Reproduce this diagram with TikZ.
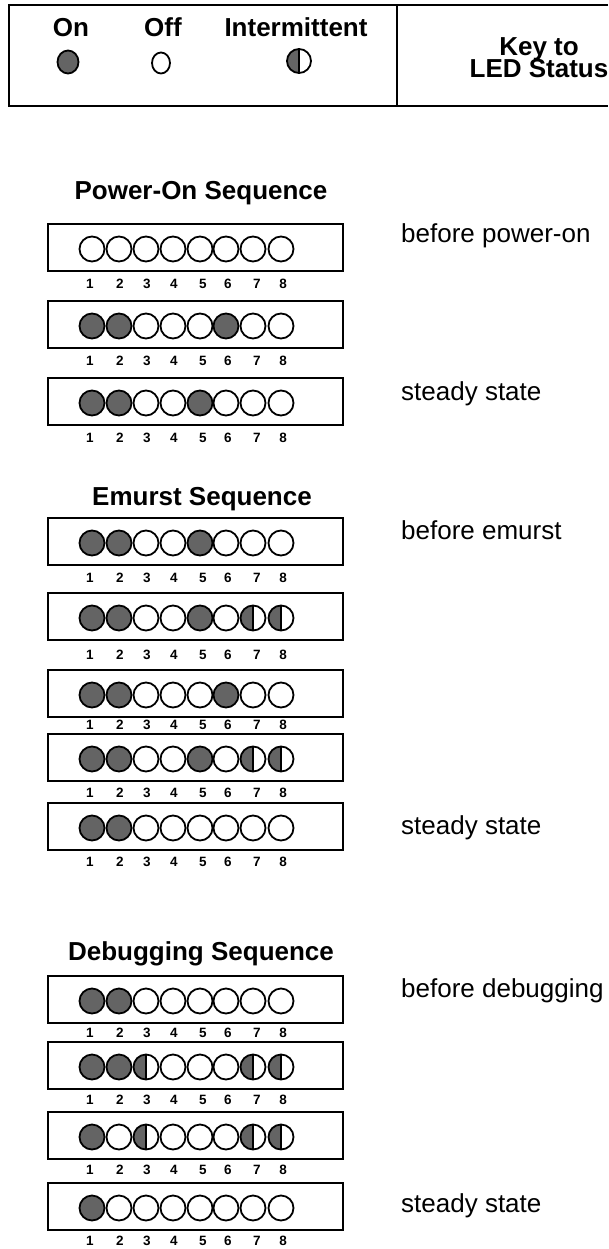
\documentclass[tikz,border=0pt]{standalone}
\usepackage{fontspec}
\setmainfont{Liberation Sans}
\definecolor{ledgray}{RGB}{100,100,100}
\tikzset{
  frame/.style={draw=black, line width=2pt},
  panelbox/.style={draw=black, line width=1.4pt},
  ledline/.style={draw=black, line width=1.8pt},
  bigbold/.style={font=\fontsize{26}{26}\selectfont\bfseries, inner sep=0pt, anchor=base},
  label/.style={font=\fontsize{26}{26}\selectfont, inner sep=0pt, anchor=base west},
  numlbl/.style={font=\fontsize{13.5}{13.5}\selectfont\bfseries, inner sep=0pt, anchor=base},
}
% #1 = LED centre x, #2 = centre y, #3 = state (0 off, 1 on, 2 intermittent), #4 x radius, #5 y radius
\newcommand\myled[5]{%
  \ifcase#3
    \draw[ledline, fill=white] (#1,#2) ellipse[x radius=#4, y radius=#5];
  \or
    \draw[ledline, fill=ledgray] (#1,#2) ellipse[x radius=#4, y radius=#5];
  \or
    \begin{scope}
      \clip (#1-#4-2,#2-#5-2) rectangle (#1,#2+#5+2);
      \fill[ledgray] (#1,#2) ellipse[x radius=#4, y radius=#5];
    \end{scope}
    \draw[ledline] (#1,#2) ellipse[x radius=#4, y radius=#5];
    \draw[ledline] (#1,#2-#5) -- (#1,#2+#5);
  \fi}
% #1 = panel top, #2 = states, #3 = numbers baseline
\newcommand\mypanel[3]{%
  \draw[panelbox] (48,#1) rectangle (343,#1+47);
  \foreach \s [count=\i] in {#2} {
    \pgfmathsetmacro\xx{{92,119,146,173,200,226,253,281}[\i-1]}
    \myled{\xx}{#1+25}{\s}{12.5}{12.5}
  }
  \foreach \n [count=\i] in {90,120,147,174,203,228,257,283}
    \node[numlbl] at (\n,#3) {\i};
}
\begin{document}
\begin{tikzpicture}[x=1pt,y=-1pt]
\useasboundingbox (0,0) rectangle (608,1249);
% key box
\draw[frame] (608,5) -- (9,5) -- (9,106) -- (608,106);
\draw[frame] (397,5) -- (397,106);
\node[bigbold] (kon) at (71,37) {On};
\node[bigbold] (koff) at (163,37) {Off};
\node[bigbold] (kint) at (296,37) {Intermittent};
\myled{68}{62}{1}{10.5}{11.5}
\myled{161}{63}{0}{9}{10.5}
\myled{299}{61}{2}{12}{12}
\node[bigbold] (key1) at (539,56) {Key to};
\node[bigbold] (key2) at (539,78) {LED Status};
% Power-On
\node[bigbold] (t1) at (201,200) {Power-On Sequence};
\mypanel{224}{0,0,0,0,0,0,0,0}{288}
\mypanel{301}{1,1,0,0,0,1,0,0}{365}
\mypanel{378}{1,1,0,0,1,0,0,0}{442}
\node[label] (l1) at (401,243) {before power-on};
\node[label] (l2) at (401,400) {steady state};
% Emurst
\node[bigbold] (t2) at (202,505) {Emurst Sequence};
\mypanel{518}{1,1,0,0,1,0,0,0}{582}
\mypanel{593}{1,1,0,0,1,0,2,2}{659}
\mypanel{670}{1,1,0,0,0,1,0,0}{729}
\mypanel{734}{1,1,0,0,1,0,2,2}{797}
\mypanel{803}{1,1,0,0,0,0,0,0}{866}
\node[label] (l3) at (401,539) {before emurst};
\node[label] (l4) at (401,834) {steady state};
% Debugging
\node[bigbold] (t3) at (201,960) {Debugging Sequence};
\mypanel{976}{1,1,0,0,0,0,0,0}{1037}
\mypanel{1042}{1,1,2,0,0,0,2,2}{1104}
\mypanel{1112}{1,0,2,0,0,0,2,2}{1174}
\mypanel{1183}{1,0,0,0,0,0,0,0}{1245}
\node[label] (l5) at (401,997) {before debugging};
\node[label] (l6) at (401,1212) {steady state};
\end{tikzpicture}
\end{document}
